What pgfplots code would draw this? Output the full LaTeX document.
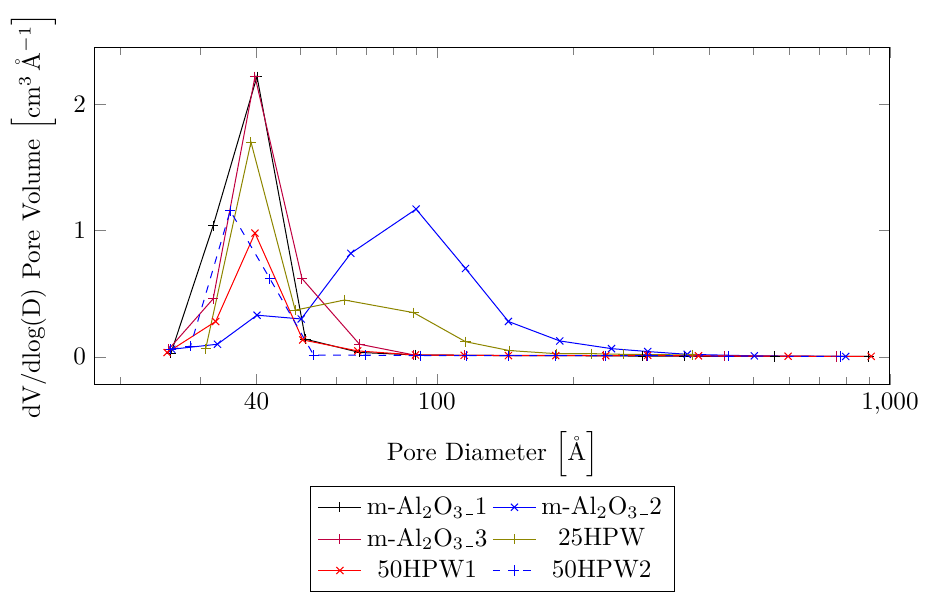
\documentclass[border={1pt 1pt 2pt 2pt}]{standalone}
\usepackage{pgfplots}
\pgfplotsset{compat=1.18}
\newcommand\us{\kern.06em\rule[-0.2pt]{.3em}{0.4pt}\kern.06em}
\begin{document}
\begin{tikzpicture}
\begin{axis}[
  scale only axis,
  width=316pt, height=134pt,
  xmode=log,
  log ticks with fixed point,
  xmin=17.6, xmax=1000,
  ymin=-0.22, ymax=2.45,
  xtick={40,100,1000},
  minor xtick={20,30,50,60,70,80,90,200,300,400,500,600,700,800,900},
  ytick={0,1,2},
  xlabel={Pore Diameter $\left[\mathring{\mathrm{A}}\right]$},
  ylabel={dV/dlog(D) Pore Volume $\left[\mathrm{cm}^3\,\mathring{\mathrm{A}}^{-1}\right]$},
  legend columns=2,
  legend cell align=center,
  legend style={at={(0.5,-0.30)}, anchor=north},
]
\addplot[black, mark=+] coordinates {
(25.9,0.03) (32.1,1.04) (40.1,2.22) (51.3,0.14) (67.5,0.035) (89.7,0.015) (115,0.012) (144,0.01) (183,0.01) (233,0.008) (285,0.006) (352,0.005) (557,0.003) (898,0.003)
};
\addlegendentry{m-Al$_2$O$_3$\us1}
\addplot[blue, mark=x] coordinates {
(26.0,0.06) (32.8,0.10) (40.1,0.33) (50.2,0.30) (64.6,0.82) (90,1.17) (115.7,0.70) (143.9,0.28) (186.8,0.126) (243,0.065) (292,0.042) (357,0.02) (502,0.008) (799,0.003)
};
\addlegendentry{m-Al$_2$O$_3$\us2}
\addplot[purple, mark=+] coordinates {
(25.6,0.06) (32.1,0.46) (39.7,2.22) (50.4,0.62) (67.5,0.10) (89,0.015) (115,0.012) (144,0.012) (183,0.012) (233,0.01) (290,0.01) (432,0.006) (764,0.003)
};
\addlegendentry{m-Al$_2$O$_3$\us3}
\addplot[olive, mark=+] coordinates {
(30.9,0.065) (38.9,1.70) (48.7,0.37) (62.6,0.45) (88.9,0.35) (115.7,0.12) (144.5,0.05) (183.7,0.025) (220,0.025) (258,0.02) (366,0.015)
};
\addlegendentry{25HPW}
\addplot[red, mark=x] coordinates {
(25.4,0.034) (32.5,0.28) (39.7,0.98) (50.6,0.134) (66.9,0.047) (89.7,0.015) (114.9,0.012) (143.9,0.01) (183,0.01) (236,0.01) (292,0.012) (378,0.008) (596,0.005) (909,0.004)
};
\addlegendentry{50HPW1}
\addplot[blue, dashed, mark=+, mark options={solid}] coordinates {
(25.9,0.06) (28.6,0.085) (35.0,1.157) (42.8,0.62) (53.5,0.013) (69.5,0.013) (91.9,0.01) (116.3,0.01) (144,0.01) (183,0.01) (236,0.01) (292,0.01) (441,0.006) (779,0.003)
};
\addlegendentry{50HPW2}
\end{axis}
\end{tikzpicture}
\end{document}
